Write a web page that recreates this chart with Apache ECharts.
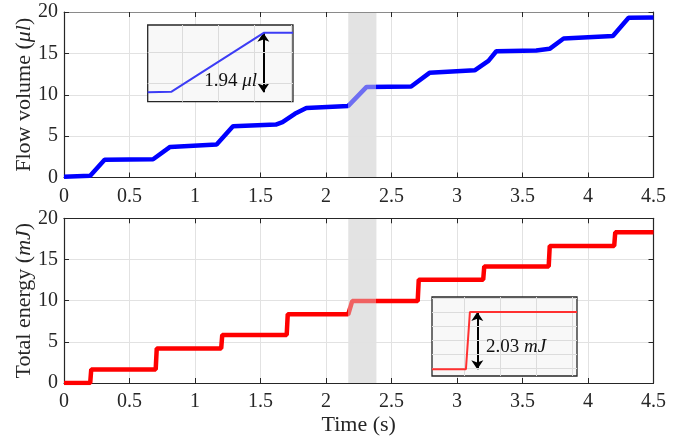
<!DOCTYPE html>
<html><head><meta charset="utf-8">
<script src="https://cdn.jsdelivr.net/npm/echarts@6/dist/echarts.min.js"></script>
<style>html,body{margin:0;padding:0;background:#fff}#c{width:680px;height:437px}</style>
</head><body><div id="c"></div>
<script>
// ---------- data ----------
const timeTicks = [0, 0.5, 1, 1.5, 2, 2.5, 3, 3.5, 4, 4.5];
const valueTicks = [0, 5, 10, 15, 20];

const flowTime   = [0, 0.2, 0.31, 0.68, 0.81, 1.165, 1.29, 1.617, 1.668, 1.762, 1.85, 2.17, 2.31, 2.65, 2.79, 3.135, 3.24, 3.30, 3.605, 3.707, 3.814, 4.19, 4.31, 4.5];
const flowVolume = [0.1, 0.2, 2.15, 2.2, 3.7, 4.0, 6.2, 6.4, 6.7, 7.7, 8.4, 8.65, 10.95, 11.0, 12.65, 12.95, 14.1, 15.25, 15.35, 15.55, 16.8, 17.1, 19.3, 19.35];

const energyTime  = [0, 0.2, 0.208, 0.7, 0.708, 1.2, 1.208, 1.7, 1.708, 2.17, 2.2, 2.7, 2.708, 3.2, 3.208, 3.7, 3.708, 4.2, 4.208, 4.5];
const energyValue = [0, 0, 1.65, 1.65, 4.2, 4.2, 5.83, 5.83, 8.35, 8.35, 9.95, 9.95, 12.55, 12.55, 14.15, 14.15, 16.65, 16.65, 18.3, 18.3];

const highlightWindow = [2.17, 2.385];

// zoomed insets
const insetFlowTime   = [2.152, 2.185, 2.3125, 2.353];
const insetFlowVolume = [8.70, 8.72, 10.64, 10.64];
const insetFlowArrowTime = 2.312;

const insetEnergyTime  = [2.156, 2.2028, 2.2083, 2.356];
const insetEnergyValue = [7.97, 7.97, 10.0, 10.0];
const insetEnergyArrowTime = 2.2185;

// ---------- style ----------
const FONT = 'Liberation Serif';
const INK = '#262626';
const GRIDC = '#e2e2e2';
const BLUE = '#0000ff', BLUE_HI = '#6e6ef2';
const RED = '#ff0000', RED_HI = '#f06262';

const zip = (a, b) => a.map((v, i) => [v, b[i]]);
const tStep = timeTicks[1] - timeTicks[0];
const vStep = valueTicks[1] - valueTicks[0];

const mainGrids = [
  {left: 64, top: 12, width: 589.5, height: 165.5},
  {left: 64, top: 218.3, width: 589.5, height: 166}
];
const insetGrids = [
  {left: 147.7, top: 25, width: 145.3, height: 76.7},
  {left: 432, top: 297, width: 145, height: 79}
];

function mainX(gi, top, lineColor, name) {
  return {
    type: 'value', gridIndex: gi, position: top ? 'top' : 'bottom', z: 2,
    min: timeTicks[0], max: timeTicks[timeTicks.length - 1], interval: tStep,
    axisLine: {show: true, onZero: false, lineStyle: {color: lineColor, width: 1.2}},
    axisTick: {show: true, inside: true, length: 5, lineStyle: {color: INK, width: 1}},
    axisLabel: {show: !top, fontFamily: FONT, fontSize: 20, color: INK, margin: 9},
    splitLine: {show: !top, showMinLine: false, showMaxLine: false, lineStyle: {color: GRIDC, width: 1}},
    name: name || '', nameLocation: 'middle', nameGap: 31, nameMoveOverlap: false,
    nameTextStyle: {fontFamily: FONT, fontSize: 22, color: INK}
  };
}
function mainY(gi, right, name) {
  return {
    type: 'value', gridIndex: gi, position: right ? 'right' : 'left', z: 2,
    min: valueTicks[0], max: valueTicks[valueTicks.length - 1], interval: vStep,
    axisLine: {show: true, onZero: false, lineStyle: {color: INK, width: 1.2}},
    axisTick: {show: true, inside: true, length: 5, lineStyle: {color: INK, width: 1}},
    axisLabel: {show: !right, fontFamily: FONT, fontSize: 20, color: INK, margin: 6},
    splitLine: {show: !right, showMinLine: false, showMaxLine: false, lineStyle: {color: GRIDC, width: 1}},
    name: name || '', nameLocation: 'middle', nameGap: 29, nameMoveOverlap: false,
    nameTextStyle: {fontFamily: FONT, fontSize: 22, color: INK,
      rich: {i: {fontFamily: FONT, fontSize: 22, color: INK, fontStyle: 'italic'}}}
  };
}
function insetAxis(gi, min, max, split) {
  return {
    type: 'value', gridIndex: gi, min: min, max: max, splitNumber: split, z: 6,
    axisLine: {show: false}, axisTick: {show: false}, axisLabel: {show: false},
    splitLine: {show: true, showMinLine: false, showMaxLine: false, lineStyle: {color: '#dcdcdc', width: 1}}
  };
}

// highlight band drawn beneath the curves (curves are lightened inside it)
const band = () => ({
  silent: true, itemStyle: {color: '#e3e3e3', opacity: 1},
  data: [[{xAxis: highlightWindow[0]}, {xAxis: highlightWindow[1]}]]
});
const arrow = (x, lo, hi) => ({
  silent: true, symbol: ['arrow', 'arrow'], symbolSize: 9,
  lineStyle: {color: '#000', width: 2, type: 'solid'}, label: {show: false},
  data: [[{coord: [x, lo]}, {coord: [x, hi]}]]
});
const pieces = (base, hi) => [
  {lt: highlightWindow[0], color: base},
  {gte: highlightWindow[0], lte: highlightWindow[1], color: hi},
  {gt: highlightWindow[1], color: base}
];

const flowDelta = (insetFlowVolume[2] - insetFlowVolume[0]).toFixed(2);
const energyDelta = (insetEnergyValue[2] - insetEnergyValue[0]).toFixed(2);

const richText = {
  n: {fontFamily: FONT, fontSize: 19, fill: '#111'},
  i: {fontFamily: FONT, fontSize: 19, fill: '#111', fontStyle: 'italic'}
};

const option = {
  animation: false,
  backgroundColor: '#fff',
  grid: [
    Object.assign({show: false}, mainGrids[0]),
    Object.assign({show: false}, mainGrids[1]),
    Object.assign({show: true, z: 5, backgroundColor: '#f8f8f8', borderColor: INK, borderWidth: 1.3}, insetGrids[0]),
    Object.assign({show: true, z: 5, backgroundColor: '#f8f8f8', borderColor: INK, borderWidth: 1.3}, insetGrids[1])
  ],
  xAxis: [
    mainX(0, false, INK),
    mainX(0, true, '#8a8a8a'),
    mainX(1, false, INK, 'Time (s)'),
    mainX(1, true, INK),
    insetAxis(2, insetFlowTime[0], insetFlowTime[insetFlowTime.length - 1], 4),
    insetAxis(3, insetEnergyTime[0], insetEnergyTime[insetEnergyTime.length - 1], 4)
  ],
  yAxis: [
    mainY(0, false, 'Flow volume ({i|μl})'),
    mainY(0, true),
    mainY(1, false, 'Total energy ({i|mJ})'),
    mainY(1, true),
    insetAxis(2, 8.394, 10.894, 3),
    insetAxis(3, 7.73, 10.53, 5)
  ],
  visualMap: [
    {type: 'piecewise', show: false, seriesIndex: 2, dimension: 0, pieces: pieces(BLUE, BLUE_HI)},
    {type: 'piecewise', show: false, seriesIndex: 3, dimension: 0, pieces: pieces(RED, RED_HI)}
  ],
  series: [
    {type: 'line', xAxisIndex: 0, yAxisIndex: 0, data: [], z: 1, markArea: band()},
    {type: 'line', xAxisIndex: 2, yAxisIndex: 2, data: [], z: 1, markArea: band()},
    {type: 'line', xAxisIndex: 0, yAxisIndex: 0, data: zip(flowTime, flowVolume),
     showSymbol: false, lineStyle: {width: 4.5}, z: 3},
    {type: 'line', xAxisIndex: 2, yAxisIndex: 2, data: zip(energyTime, energyValue),
     showSymbol: false, lineStyle: {width: 4.5}, z: 3},
    {type: 'line', xAxisIndex: 4, yAxisIndex: 4, data: zip(insetFlowTime, insetFlowVolume),
     showSymbol: false, lineStyle: {width: 2, color: '#3c3cf5'}, z: 10,
     markLine: arrow(insetFlowArrowTime, insetFlowVolume[0], insetFlowVolume[2])},
    {type: 'line', xAxisIndex: 5, yAxisIndex: 5, data: zip(insetEnergyTime, insetEnergyValue),
     showSymbol: false, lineStyle: {width: 2, color: '#ff3030'}, z: 10,
     markLine: arrow(insetEnergyArrowTime, insetEnergyValue[0], insetEnergyValue[2])}
  ],
  graphic: [
    {type: 'text', x: 257, y: 81, z: 100,
     style: {text: '{n|' + flowDelta + ' }{i|μl}', rich: richText, align: 'right', verticalAlign: 'middle'}},
    {type: 'text', x: 486, y: 347, z: 100,
     style: {text: '{n|' + energyDelta + ' }{i|mJ}', rich: richText, align: 'left', verticalAlign: 'middle'}}
  ]
};

const chart = echarts.init(document.getElementById('c'), null, {renderer: 'canvas'});
chart.setOption(option);
</script>
</body></html>
